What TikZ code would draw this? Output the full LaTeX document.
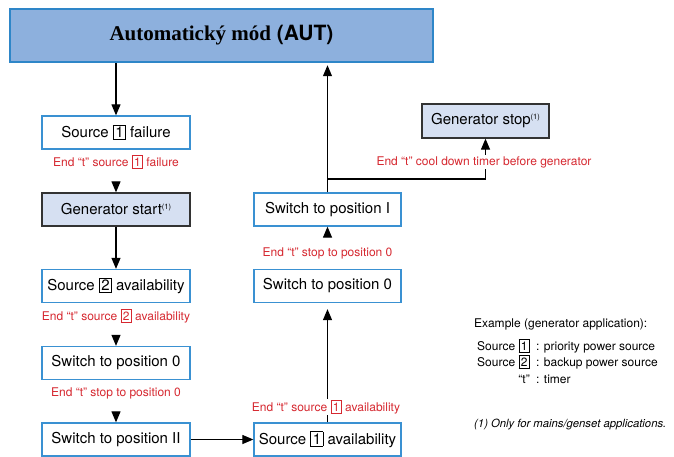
\documentclass[tikz,border=0pt]{standalone}
\usepackage{fontspec}
\setmainfont{TeX Gyre Heros}
\newfontfamily\titlefont{Liberation Serif}
\usetikzlibrary{arrows.meta}
\definecolor{boxblue}{RGB}{58,145,210}
\definecolor{titlefill}{RGB}{141,176,221}
\definecolor{titleline}{RGB}{46,134,200}
\definecolor{genfill}{RGB}{214,224,242}
\definecolor{labred}{RGB}{214,40,48}
\newcommand{\numbox}[1]{{\fboxsep=1.5pt\fboxrule=0.8pt\fbox{#1}}}
\newcommand{\onlynote}{\raisebox{5pt}{\fontsize{7.5}{8}\selectfont(1)}}

\begin{document}
\begin{tikzpicture}[x=1pt,y=-1pt,
	stepbox/.style={draw=boxblue,line width=1.3pt,minimum width=148pt,minimum height=33pt,inner sep=0pt,font=\fontsize{15}{18}\selectfont},
	genbox/.style={stepbox,draw=black!80,fill=genfill},
	timer/.style={text=labred,fill=white,inner sep=1pt,font=\fontsize{12}{14}\selectfont},
	arr/.style={line width=1.2pt,-{Triangle[length=11pt,width=9pt]}},
	tip/.style={arr,shorten <=18pt},
	legend/.style={inner sep=0pt,font=\fontsize{12}{14}\selectfont}]
			\useasboundingbox (0,0) rectangle (674,457);
			\node (aut) [draw=titleline,fill=titlefill,line width=2.5pt,minimum width=423pt,minimum height=53pt] at (221.5,35.5){\fontsize{21}{25}\selectfont{\titlefont\bfseries Automatický mód} {\bfseries(AUT)}};
			
			\node (f1) [stepbox] at (116,132.5){Source \numbox{1} failure};
			\node (gs) [genbox] at (116,209.5){Generator start\onlynote};
			\node (a2) [stepbox] at (116,286){Source \numbox{2} availability};
			\node (z1) [stepbox] at (116,363){Switch to position 0};
			\node (p2) [stepbox] at (116,439.5){Switch to position II};
			
			\node (p1) [stepbox,minimum width=147pt] at (327.5,209.5){Switch to position I};
			\node (z2) [stepbox,minimum width=147pt] at (327.5,286){Switch to position 0};
			\node (a1) [stepbox,minimum width=147pt] at (327.5,439.5){Source \numbox{1} availability};
			\node (gt) [genbox,minimum width=127pt,minimum height=34pt] at (485.5,121){Generator stop\onlynote};
			\coordinate (j) at (327.5,179);
			
			\draw[arr] (aut.south -| f1.north)--(f1);
			\draw[arr] (gs)--(a2);
			\draw[arr] (p2)--(a1);
			\draw[arr,shorten >=6pt] (a1)--(z2);
			\draw[arr,shorten >=2pt] (p1)--(p1 |- aut.south);
			\draw[arr] (j)-|(gt);
			
			\node (t1) [timer] at (116,162){End “t” source \numbox{1} failure};
			\node (t2) [timer] at (116,316){End “t” source \numbox{2} availability};
			\node (t3) [timer] at (116,393){End “t” stop to position 0};
			\node (t4) [timer] at (327.5,253){End “t” stop to position 0};
			\node (t5) [timer] at (326,407){End “t” source \numbox{1} availability};
			\node (t6) [timer] at (484,162){End “t” cool down timer before generator};
			
			\draw[tip] (t1)--(gs);
			\draw[tip] (t2)--(z1);
			\draw[tip] (t3)--(p2);
			\draw[tip,shorten <=14pt] (t4)--(p1);
			
			\node (ex) [legend,anchor=base west] at (474,327.5){Example (generator application):};
			\node (k1) [legend,anchor=base east] at (530,350){Source \numbox{1}};
			\node (k2) [legend,anchor=base east] at (530,366){Source \numbox{2}};
			\node (k3) [legend,anchor=base east] at (530,383){“t”};
			\node (v1) [legend,anchor=base west] at (536,350){: priority power source};
			\node (v2) [legend,anchor=base west] at (536,366){: backup power source};
			\node (v3) [legend,anchor=base west] at (536,383){: timer};
			\node (nb) [legend,anchor=base west,font=\fontsize{11.3}{13}\selectfont] at (474,427.5){\itshape (1) Only for mains/genset applications.};
		\end{tikzpicture}
\end{document}
